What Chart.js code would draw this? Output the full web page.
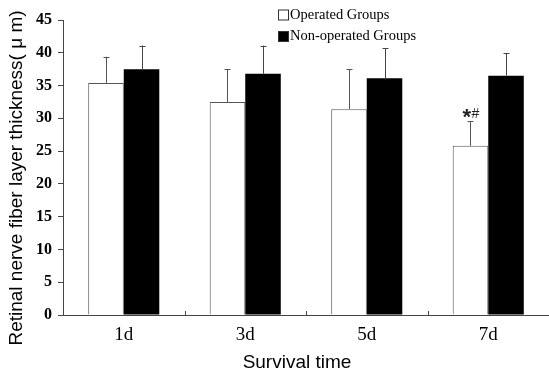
<!DOCTYPE html>
<html><head><meta charset="utf-8">
<script src="https://cdn.jsdelivr.net/npm/chart.js@4/dist/chart.umd.min.js"></script>
<style>html,body{margin:0;padding:0;background:#fff;}#wrap{width:549px;height:376px;}</style>
</head><body><div id="wrap"><canvas id="c"></canvas></div>
<script>
const categories = ['1d', '3d', '5d', '7d'];
const operated = [35.4, 32.5, 31.4, 25.8];
const operatedErr = [4.0, 5.0, 6.1, 3.8];
const nonOperated = [37.5, 36.8, 36.1, 36.5];
const nonOperatedErr = [3.6, 4.3, 4.6, 3.4];
const annotations = ['', '', '', '*#'];
const yTicks = [0, 5, 10, 15, 20, 25, 30, 35, 40, 45];
const xTitle = 'Survival time';
const yTitle = 'Retinal nerve fiber layer thickness( μ m)';

const SERIF = '"Liberation Serif", "Times New Roman", serif';
const SANS = '"Liberation Sans", Arial, sans-serif';

const errPlugin = {
  id: 'errbars',
  afterDatasetsDraw(chart) {
    const ctx = chart.ctx;
    const y = chart.scales.y;
    const x = chart.scales.x;
    ctx.save();
    chart.data.datasets.forEach((ds, di) => {
      const meta = chart.getDatasetMeta(di);
      meta.data.forEach((bar, i) => {
        const top = y.getPixelForValue(ds.data[i] + ds.err[i]);
        const base = y.getPixelForValue(ds.data[i]);
        ctx.strokeStyle = ds.errColor;
        ctx.lineWidth = 1;
        ctx.beginPath();
        ctx.moveTo(Math.round(bar.x) + 0.5, base);
        ctx.lineTo(Math.round(bar.x) + 0.5, top);
        ctx.moveTo(Math.round(bar.x) - 2.5, Math.round(top) + 0.5);
        ctx.lineTo(Math.round(bar.x) + 3.5, Math.round(top) + 0.5);
        ctx.stroke();
        if (ds.notes && ds.notes[i]) {
          const t = ds.notes[i];
          ctx.fillStyle = '#222';
          ctx.textBaseline = 'alphabetic';
          ctx.textAlign = 'left';
          ctx.font = 'bold 22px ' + SANS;
          ctx.fillText(t[0], bar.x - 8, top + 3);
          ctx.font = '14px ' + SANS;
          ctx.fillText(t.slice(1), bar.x + 1, top - 3);
        }
      });
    });
    // inward ticks at category boundaries on x axis
    ctx.strokeStyle = '#444';
    ctx.beginPath();
    for (let i = 1; i < categories.length; i++) {
      const px = Math.round((x.getPixelForValue(i - 1) + x.getPixelForValue(i)) / 2) + 0.5;
      ctx.moveTo(px, x.top);
      ctx.lineTo(px, x.top - 4);
    }
    ctx.stroke();
    // legend
    const items = chart.data.datasets;
    ctx.font = '14.5px ' + SERIF;
    ctx.textBaseline = 'middle';
    ctx.textAlign = 'left';
    items.forEach((ds, k) => {
      const ly = 15 + k * 21.5;
      const lx = 278;
      ctx.fillStyle = ds.backgroundColor;
      ctx.fillRect(lx, ly - 5.5, 11, 11);
      ctx.strokeStyle = '#333';
      ctx.lineWidth = 1;
      ctx.strokeRect(lx + 0.5, ly - 5, 10, 10);
      ctx.fillStyle = '#000';
      ctx.fillText(ds.label, lx + 12, ly);
    });
    // axis titles
    ctx.fillStyle = '#000';
    ctx.font = '19px ' + SANS;
    ctx.textAlign = 'center';
    ctx.textBaseline = 'middle';
    ctx.fillText(xTitle, 297, 363);
    ctx.save();
    ctx.translate(17, 178);
    ctx.rotate(-Math.PI / 2);
    ctx.fillText(yTitle, 0, 0);
    ctx.restore();
    ctx.restore();
  }
};

new Chart(document.getElementById('c'), {
  type: 'bar',
  data: {
    labels: categories,
    datasets: [
      { label: 'Operated Groups', data: operated, err: operatedErr, notes: annotations,
        backgroundColor: '#ffffff', borderColor: '#555', borderWidth: 1, errColor: '#555' },
      { label: 'Non-operated Groups', data: nonOperated, err: nonOperatedErr,
        backgroundColor: '#000000', borderColor: '#000', borderWidth: 0, errColor: '#444' }
    ]
  },
  options: {
    responsive: true,
    maintainAspectRatio: false,
    animation: false,
    events: [],
    layout: { padding: { top: 20, right: 0, left: 0, bottom: 0 } },
    plugins: { legend: { display: false }, tooltip: { enabled: false } },
    datasets: { bar: { categoryPercentage: 0.585, barPercentage: 1.0 } },
    scales: {
      x: {
        grid: { display: false, drawTicks: false },
        border: { display: true, color: '#444', width: 1 },
        ticks: { color: '#000', font: { family: SERIF, size: 19 }, padding: 9 },
        title: { display: false },
        afterFit(s) { s.height = 61; }
      },
      y: {
        min: 0, max: 45,
        afterBuildTicks(s) { s.ticks = yTicks.map(v => ({ value: v })); },
        grid: { display: true, drawOnChartArea: false, drawTicks: true, tickLength: 5, color: '#444' },
        border: { display: true, color: '#444', width: 1 },
        ticks: { color: '#000', font: { family: SERIF, size: 16, weight: 'bold' }, padding: 6 },
        title: { display: false },
        afterFit(s) { s.width = 63; }
      }
    }
  },
  plugins: [errPlugin]
});
</script>
</body></html>
